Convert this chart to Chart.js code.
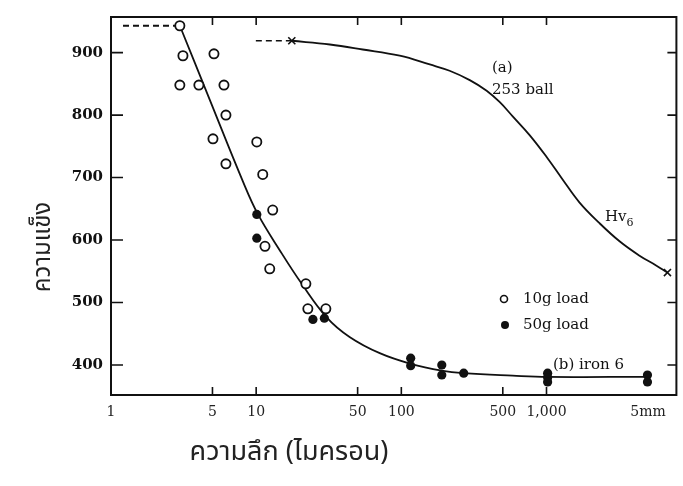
<!DOCTYPE html>
<html>
<head>
<meta charset="utf-8">
<script src="https://cdn.jsdelivr.net/npm/chart.js@4"></script>
<style>
  html, body { margin: 0; padding: 0; background: #fff; }
</style>
</head>
<body>
<canvas id="hardness_Chart" width="683" height="486"></canvas>
<script>
// axis ticks (depth in micron, log scale)
const xTickValues = [1, 5, 10, 50, 100, 500, 1000, 5000];
const xTickLabels = ["1", "5", "10", "50", "100", "500", "1,000", "5mm"];
const yTickValues = [400, 500, 600, 700, 800, 900];

// measured points
const depth10g = [2.98, 3.13, 5.12, 2.98, 4.03, 6.0, 6.19, 5.04, 10.1, 6.19, 11.1, 13.0, 11.5, 12.4, 22.0, 22.7, 30.2];
const hardness10g = [943, 895, 898, 848, 848, 848, 800, 762, 757, 722, 705, 648, 590, 554, 530, 490, 490];
const depth50g = [10.1, 10.1, 24.6, 29.5, 116, 116, 190, 190, 269, 1018, 1018, 1018, 4960, 4960];
const hardness50g = [641, 603, 473, 475, 411, 399, 400, 384, 387, 387, 380, 373, 384, 373];

// (b) iron 6 curve
const iron6Depth = [2.98, 4.8, 8.1, 10.3, 14.6, 20.6, 30.7, 44, 71, 116, 190, 269, 585, 1018, 4960];
const iron6Hv = [943, 824, 694, 641, 583, 530, 476, 445, 419, 402, 391, 387, 383, 381, 381];
const iron6DashDepth = [1.21, 2.98];
const iron6DashHv = [943, 943];

// (a) 253 ball curve
const ball253Depth = [17.6, 32.2, 54.2, 97.5, 157, 215, 296, 387, 475, 585, 765, 1002, 1291, 1690, 2318, 3186, 4373, 5725, 6810];
const ball253Hv = [919, 913, 905, 895, 881, 871, 856, 839, 821, 798, 768, 733, 697, 660, 627, 598, 575, 559, 548];
const ball253DashDepth = [9.95, 17.6];
const ball253DashHv = [919, 919];

const SERIF = '"DejaVu Serif", "Liberation Serif", serif';
const THAI = '"Noto Sans Thai", "Noto Serif Thai", "Loma", "Garuda", "Norasi", "Kinnari", "Tlwg Typo", sans-serif';

function toPoints(xs, ys) {
  return xs.map((x, i) => ({ x: x, y: ys[i] }));
}

const framePlugin = {
  id: "frameAndText",
  afterDraw(chart) {
    const ctx = chart.ctx;
    const a = chart.chartArea;
    const xs = chart.scales.x;
    const ys = chart.scales.y;
    ctx.save();
    ctx.strokeStyle = "#111";
    ctx.lineWidth = 2;
    ctx.strokeRect(a.left, a.top, a.right - a.left, a.bottom - a.top);

    // inward ticks
    ctx.lineWidth = 1.6;
    ctx.beginPath();
    xTickValues.forEach((v) => {
      if (v <= 1 || v >= 5000) return;
      const px = xs.getPixelForValue(v);
      ctx.moveTo(px, a.bottom);
      ctx.lineTo(px, a.bottom - 8);
      ctx.moveTo(px, a.top);
      ctx.lineTo(px, a.top + 8);
    });
    yTickValues.forEach((v) => {
      const py = ys.getPixelForValue(v);
      ctx.moveTo(a.left, py);
      ctx.lineTo(a.left + 12, py);
      ctx.moveTo(a.right, py);
      ctx.lineTo(a.right - 9, py);
    });
    ctx.stroke();

    // annotations
    ctx.fillStyle = "#111";
    ctx.textBaseline = "middle";
    ctx.textAlign = "left";
    ctx.font = "15px " + SERIF;
    ctx.fillText("(a)", 492, 68);
    ctx.fillText("253 ball", 492, 90);
    ctx.fillText("Hv", 605, 217);
    const hvW = ctx.measureText("Hv").width;
    ctx.fillText("(b) iron 6", 553, 365);
    ctx.fillText("10g load", 523, 299);
    ctx.fillText("50g load", 523, 325);
    ctx.font = "11px " + SERIF;
    ctx.fillText("6", 605 + hvW, 223);

    // legend markers
    ctx.lineWidth = 1.6;
    ctx.beginPath();
    ctx.arc(504, 299, 3.5, 0, Math.PI * 2);
    ctx.fillStyle = "#fff";
    ctx.fill();
    ctx.stroke();
    ctx.beginPath();
    ctx.arc(505, 325, 4, 0, Math.PI * 2);
    ctx.fillStyle = "#111";
    ctx.fill();

    // axis titles
    ctx.fillStyle = "#222";
    ctx.textAlign = "center";
    ctx.font = "27px " + THAI;
    ctx.fillText("ความลึก (ไมครอน)", 289, 455);
    ctx.translate(45, 247);
    ctx.rotate(-Math.PI / 2);
    ctx.font = "24px " + THAI;
    ctx.fillText("ความแข็ง", 0, 0);
    ctx.restore();
  },
};

function initChart() {
  const ctx = document.getElementById("hardness_Chart").getContext("2d");
  new Chart(ctx, {
    type: "scatter",
    data: {
      datasets: [
        {
          label: "10g load",
          data: toPoints(depth10g, hardness10g),
          pointStyle: "circle",
          pointRadius: 4.6,
          borderWidth: 1.8,
          borderColor: "#111",
          backgroundColor: "#fff",
        },
        {
          label: "50g load",
          data: toPoints(depth50g, hardness50g),
          pointStyle: "circle",
          pointRadius: 4.6,
          borderWidth: 0,
          borderColor: "#111",
          backgroundColor: "#111",
        },
        {
          label: "(b) iron 6",
          data: toPoints(iron6Depth, iron6Hv),
          showLine: true,
          pointRadius: 0,
          borderWidth: 1.8,
          borderColor: "#111",
          tension: 0.4,
        },
        {
          label: "iron 6 dash",
          data: toPoints(iron6DashDepth, iron6DashHv),
          showLine: true,
          pointRadius: 0,
          borderWidth: 1.8,
          borderDash: [6, 4],
          borderColor: "#111",
        },
        {
          label: "(a) 253 ball",
          data: toPoints(ball253Depth, ball253Hv),
          showLine: true,
          pointStyle: "crossRot",
          pointRadius: (c) =>
            c.dataIndex === 0 || c.dataIndex === ball253Depth.length - 1 ? 5 : 0,
          pointBorderWidth: 1.6,
          borderWidth: 1.8,
          borderColor: "#111",
          tension: 0.4,
        },
        {
          label: "253 ball dash",
          data: toPoints(ball253DashDepth, ball253DashHv),
          showLine: true,
          pointRadius: 0,
          borderWidth: 1.6,
          borderDash: [6, 4],
          borderColor: "#111",
        },
      ],
    },
    options: {
      responsive: false,
      animation: false,
      layout: { padding: { left: 0, right: 6, top: 14, bottom: 0 } },
      plugins: {
        legend: { display: false },
        tooltip: { enabled: false },
      },
      scales: {
        x: {
          type: "logarithmic",
          min: 1,
          max: 7850,
          grid: { display: false, drawTicks: false },
          border: { display: false },
          afterBuildTicks: (scale) => {
            scale.ticks = xTickValues.map((v) => ({ value: v }));
          },
          afterFit: (scale) => {
            scale.height = 91;
          },
          ticks: {
            autoSkip: false,
            maxRotation: 0,
            padding: 9,
            color: "#222",
            font: { family: SERIF, size: 14 },
            callback: (value, index) => xTickLabels[index],
          },
        },
        y: {
          type: "linear",
          min: 352,
          max: 957,
          grid: { display: false, drawTicks: false },
          border: { display: false },
          afterBuildTicks: (scale) => {
            scale.ticks = yTickValues.map((v) => ({ value: v }));
          },
          afterFit: (scale) => {
            scale.width = 111;
          },
          ticks: {
            padding: 8,
            color: "#111",
            font: { family: SERIF, size: 15, weight: "bold" },
          },
        },
      },
    },
    plugins: [framePlugin],
  });
}

window.onload = initChart;
</script>
</body>
</html>
